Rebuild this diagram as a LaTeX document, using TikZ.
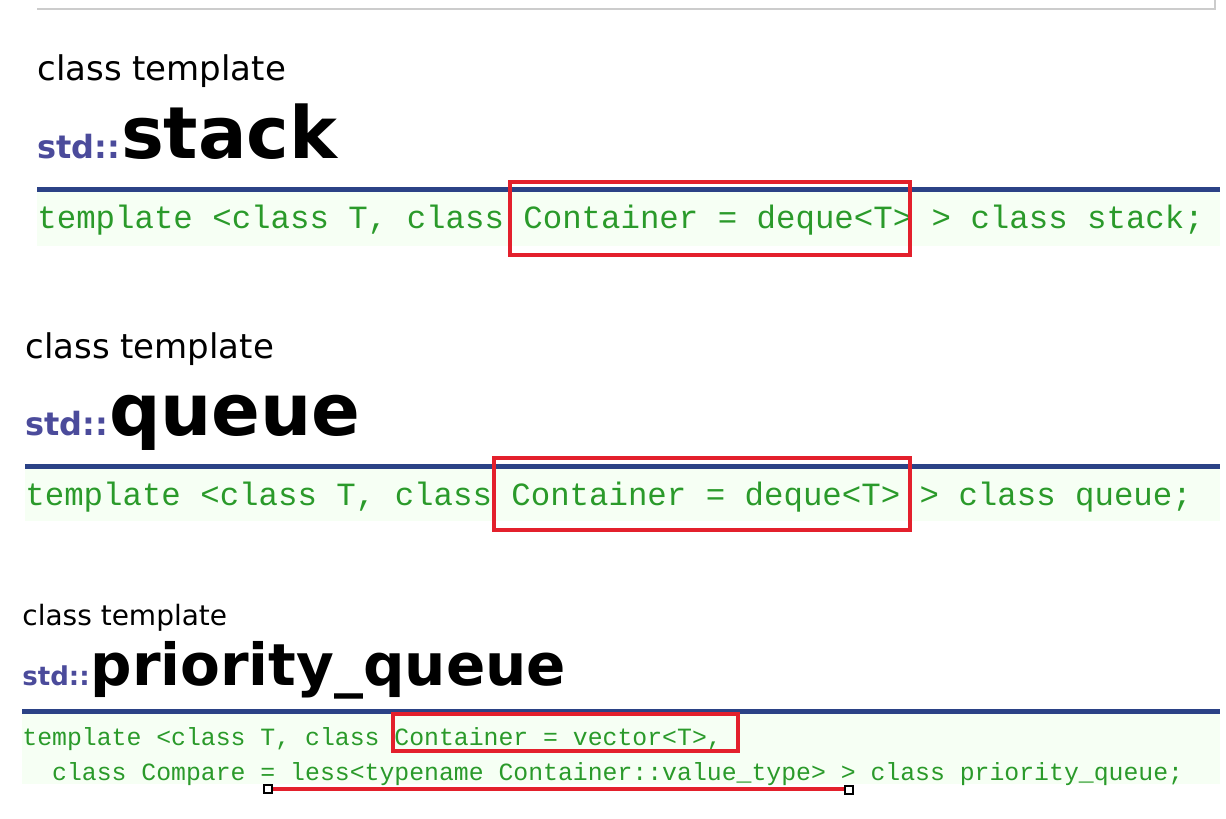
\documentclass[tikz,border=0pt]{standalone}
\usepackage{fontspec}
\setmainfont{DejaVu Sans}
\newfontfamily\codefont{Liberation Mono}
\definecolor{stdblue}{HTML}{4B4B9B}
\definecolor{rulecol}{HTML}{2B4286}
\definecolor{codegreen}{HTML}{2A9A2A}
\definecolor{codebg}{HTML}{F6FFF4}
\definecolor{markred}{HTML}{E3202C}
\tikzset{
  caption/.style={anchor=base west, inner sep=0pt, font=\fontsize{#1}{#1}\selectfont},
  nsname/.style={anchor=base west, inner sep=0pt, text=stdblue, font=\fontsize{#1}{#1}\selectfont\bfseries},
  title/.style={anchor=base west, inner sep=0pt, font=\fontsize{#1}{#1}\selectfont\bfseries},
  code/.style={anchor=base west, inner sep=0pt, text=codegreen, font=\fontsize{#1}{#1}\codefont},
  redbox/.style={draw=markred, line width=1.6pt},
}
\begin{document}
\begin{tikzpicture}[x=0.5pt,y=-0.5pt]
\useasboundingbox (0,0) rectangle (1226,819);
% top rule
\draw[gray!40, line width=1.2pt] (37,9) -- (1215,9) -- (1215,0);
% stack
\fill[codebg] (37,192) rectangle (1220,246);
\draw[rulecol, line width=2.5pt] (37,189) -- (1220,189);
\node[caption=17] (capA) at (37,80) {class template};
\node[nsname=16] (nsA) at (37,158) {std::};
\node[title=36] (tA) at (nsA.base east) {stack};
\node[code=16.2] (cA) at (37,228) {template <class T, class Container = deque<T> > class stack;};
\draw[redbox] (510,182) rectangle (910,255);
% queue
\fill[codebg] (25,469) rectangle (1220,521);
\draw[rulecol, line width=2.5pt] (25,466) -- (1220,466);
\node[caption=17] (capB) at (25,358) {class template};
\node[nsname=16] (nsB) at (25,435) {std::};
\node[title=36] (tB) at (nsB.base east) {queue};
\node[code=16.2] (cB) at (25,505) {template <class T, class Container = deque<T> > class queue;};
\draw[redbox] (494,458) rectangle (910,530);
% priority_queue
\fill[codebg] (22,714) rectangle (1220,784);
\draw[rulecol, line width=2.5pt] (22,711) -- (1220,711);
\node[caption=14] (capC) at (22,625) {class template};
\node[nsname=13] (nsC) at (22,685) {std::};
\node[title=29] (tC) at (nsC.base east) {priority\_queue};
\node[code=12.4] (cC) at (22,745) {template <class T, class Container = vector<T>,};
\node[code=12.4] (cD) at (22,780) {\ \ class Compare = less<typename Container::value\_type> > class priority\_queue;};
\draw[redbox] (393,714) rectangle (738,751);
\draw[markred, line width=2pt] (268,789) -- (849,789);
\draw[black, fill=white, line width=0.6pt] (264,785) rectangle (272,793);
\draw[black, fill=white, line width=0.6pt] (845,786) rectangle (853,794);
\end{tikzpicture}
\end{document}
